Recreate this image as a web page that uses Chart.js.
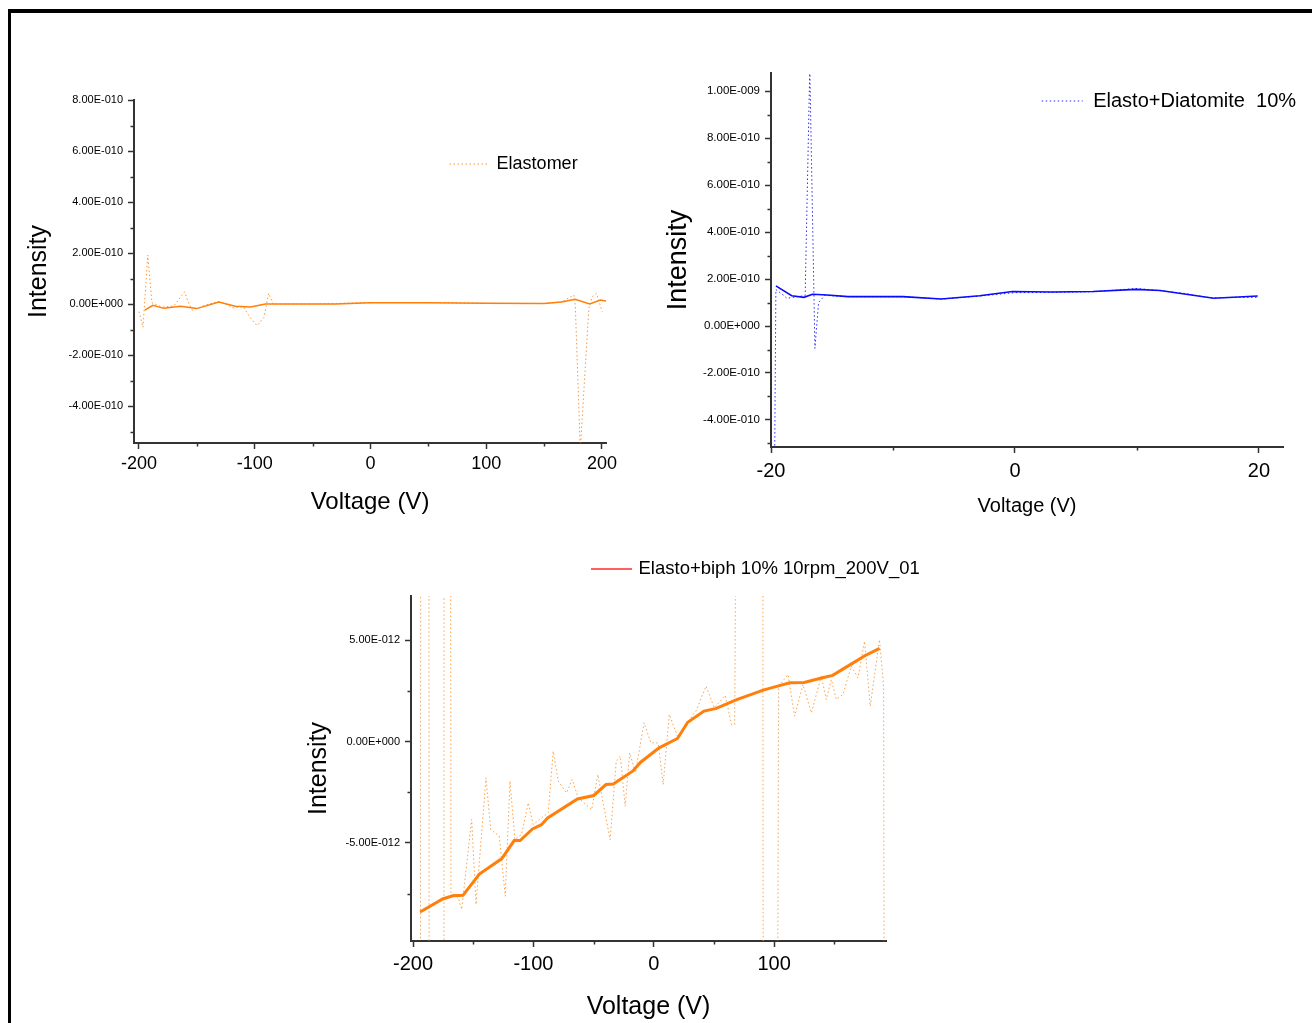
<!DOCTYPE html>
<html>
<head>
<meta charset="utf-8">
<title>Intensity vs Voltage</title>
<script src="https://cdn.jsdelivr.net/npm/chart.js@4.4.1/dist/chart.umd.min.js"></script>
<style>
  body { margin: 0; background: #fff; width: 1312px; height: 1023px; overflow: hidden; position: relative; }
  .frame { position: absolute; left: 8px; top: 9px; right: -10px; bottom: -10px; border-top: 4px solid #000; border-left: 3px solid #000; }
  .box { position: absolute; }
</style>
</head>
<body>
<div class="frame"></div>
<div class="box" style="left:18px;top:60px;width:622px;height:470px"><canvas id="chart1"></canvas></div>
<div class="box" style="left:655px;top:50px;width:650px;height:480px"><canvas id="chart2"></canvas></div>
<div class="box" style="left:295px;top:550px;width:645px;height:473px"><canvas id="chart3"></canvas></div>
<script>
// upper panels: intensity in units of 1e-10, lower panel: units of 1e-12

// Elastomer (top left)
const elastoRawV = [-200, -196.5, -192.4, -188.8, -180, -170, -160.5, -158, -154, -146, -138, -131, -127, -119, -110, -103.7, -98, -92, -88, -84, -70, -50, -30, -10, 10, 30, 60, 90, 120, 150, 165, 175.8, 177, 181.3, 188.7, 191.6, 195.3, 200.2];
const elastoRawI = [-0.3, -0.91, 1.92, 0.05, -0.12, -0.08, 0.48, 0.13, -0.24, -0.1, 0.02, 0.1, 0.05, -0.15, -0.1, -0.55, -0.85, -0.52, 0.42, 0.0, 0.0, 0.0, 0.02, 0.05, 0.06, 0.06, 0.05, 0.03, 0.02, 0.02, 0.08, 0.35, -0.1, -5.7, -0.17, 0.29, 0.42, -0.3];
const elastoFitV = [-195, -188, -178.7, -164, -150, -131, -116.7, -103.7, -90.7, -60, -30, 0, 50, 100, 150, 165, 176.8, 189.5, 198.6, 203.5];
const elastoFitI = [-0.24, -0.05, -0.17, -0.09, -0.18, 0.08, -0.09, -0.12, 0, 0, 0, 0.05, 0.05, 0.03, 0.02, 0.08, 0.19, 0.0, 0.16, 0.12];
const elastoTicksX = [-200, -100, 0, 100, 200];
const elastoMinorX = [-150, -50, 50, 150];
const elastoTicksY = [-4, -2, 0, 2, 4, 6, 8];
const elastoLabelsY = ['-4.00E-010', '-2.00E-010', '0.00E+000', '2.00E-010', '4.00E-010', '6.00E-010', '8.00E-010'];
const elastoMinorY = [-5, -3, -1, 1, 3, 5, 7];

// Elasto+Diatomite 10% (top right)
const diatoRawV = [-19.7, -19.6, -19.0, -18.7, -17.8, -17.2, -16.82, -16.4, -16.1, -15.6, -13.5, -9, -6, -3, 0, 3, 6.5, 8, 10, 12, 14, 16, 18, 19.9];
const diatoRawI = [-5.6, 1.55, 1.32, 1.18, 1.25, 1.3, 11.0, -0.95, 1.0, 1.3, 1.25, 1.24, 1.15, 1.27, 1.42, 1.43, 1.46, 1.52, 1.6, 1.5, 1.38, 1.2, 1.22, 1.22];
const diatoFitV = [-19.6, -18.3, -17.3, -16.6, -15.4, -13.7, -9.2, -6.05, -2.9, -0.2, 3, 6.4, 9.9, 11.9, 16.3, 19.9];
const diatoFitI = [1.71, 1.29, 1.22, 1.35, 1.32, 1.25, 1.25, 1.15, 1.29, 1.47, 1.45, 1.47, 1.56, 1.51, 1.18, 1.28];
const diatoTicksX = [-20, 0, 20];
const diatoMinorX = [-10, 10];
const diatoTicksY = [-4, -2, 0, 2, 4, 6, 8, 10];
const diatoLabelsY = ['-4.00E-010', '-2.00E-010', '0.00E+000', '2.00E-010', '4.00E-010', '6.00E-010', '8.00E-010', '1.00E-009'];
const diatoMinorY = [-5, -3, -1, 1, 3, 5, 7, 9];

// Elasto+biph 10% 10rpm_200V_01 (bottom)
const biphRawV = [-194, -193.5, -187, -186.5, -174.5, -174, -169, -168.5, -162.4, -159.6, -151.3, -147.7, -139.4, -135.5, -128.4, -123.4, -119.5, -115.4, -109.8, -104.3, -100.2, -87.7, -83.6, -79.4, -72.5, -67.8, -62.8, -51.6, -46.5, -36.3, -31.2, -27.8, -23.8, -20, -15.3, -8.1, -2.4, 3.7, 7.8, 12.9, 19.7, 28.2, 35, 43.4, 50.2, 59.4, 64.5, 67.2, 69.8, 90.5, 91, 102, 103.7, 111.5, 117, 123.9, 130.9, 139.2, 143.3, 147.5, 151.6, 157.1, 164.1, 169.6, 175.1, 179.8, 187.5, 190.9, 191.8];
const biphRawI = [-30, 30, 30, -30, -30, 30, 30, -7.45, -7.7, -8.28, -3.84, -8.03, -1.79, -4.34, -4.66, -7.62, -1.95, -4.83, -4.58, -3.02, -4.09, -3.51, -0.48, -1.95, -2.53, -1.87, -2.77, -3.36, -1.63, -4.84, -0.97, -0.72, -3.19, -0.56, -1.55, 0.92, -0.07, -0.07, -2.12, 1.33, 0.26, 0.95, 1.5, 2.73, 1.66, 2.27, 0.84, 0.84, 30, 30, -30, -30, 2.72, 3.3, 1.25, 2.81, 1.41, 3.22, 2.07, 3.05, 2.07, 2.32, 3.71, 3.14, 4.94, 1.74, 5.02, 2.72, -30];
const biphFitV = [-194.1, -175.4, -167, -158.5, -144.9, -126.2, -116, -111, -100.8, -93.3, -88.2, -63.4, -49.9, -39.7, -33.6, -17.6, -10.9, 4.4, 19.7, 28.2, 41.7, 51.9, 68.9, 90.9, 102.8, 113, 124.9, 140.1, 148.6, 162.2, 175.7, 187.6];
const biphFitI = [-8.40, -7.76, -7.60, -7.58, -6.53, -5.77, -4.88, -4.88, -4.31, -4.10, -3.77, -2.83, -2.66, -2.12, -2.09, -1.46, -1.02, -0.31, 0.15, 0.95, 1.50, 1.63, 2.06, 2.53, 2.73, 2.89, 2.91, 3.14, 3.26, 3.75, 4.24, 4.59];
const biphTicksX = [-200, -100, 0, 100];
const biphMinorX = [-150, -50, 50, 150];
const biphTicksY = [-5, 0, 5];
const biphLabelsY = ['-5.00E-012', '0.00E+000', '5.00E-012'];
const biphMinorY = [-7.5, -2.5, 2.5];

Chart.defaults.font.family = '"Liberation Sans", Arial, sans-serif';
Chart.defaults.color = '#000';
const axisColor = '#333';
const dots = [1.5, 2.5];

const pts = (xs, ys) => xs.map((x, i) => ({x: x, y: ys[i]}));

// fixed axis box so the plot areas land where they are in the figure
function fixSize(size) {
  return function (scale) {
    if (scale.isHorizontal()) scale.height = size; else scale.width = size;
    scale.paddingLeft = 0; scale.paddingRight = 0;
    scale.paddingTop = 0; scale.paddingBottom = 0;
  };
}

// short ticks between the labelled ones
const minorTicks = {
  id: 'minorTicks',
  afterDraw(chart, args, o) {
    const {ctx, chartArea: a, scales} = chart;
    ctx.save();
    ctx.strokeStyle = axisColor;
    ctx.lineWidth = 1.5;
    ctx.beginPath();
    o.x.forEach(v => {
      const px = Math.round(scales.x.getPixelForValue(v)) + 0.5;
      ctx.moveTo(px, a.bottom); ctx.lineTo(px, a.bottom + o.len);
    });
    o.y.forEach(v => {
      const py = Math.round(scales.y.getPixelForValue(v)) + 0.5;
      ctx.moveTo(a.left, py); ctx.lineTo(a.left - o.len, py);
    });
    ctx.stroke();
    ctx.restore();
  }
};

// single-entry legend drawn where the original has it
const innerLegend = {
  id: 'innerLegend',
  afterDraw(chart, args, o) {
    const ctx = chart.ctx;
    ctx.save();
    ctx.strokeStyle = o.color;
    ctx.lineWidth = o.width;
    ctx.setLineDash(o.dash);
    ctx.beginPath();
    ctx.moveTo(o.x, o.y); ctx.lineTo(o.x + o.len, o.y);
    ctx.stroke();
    ctx.setLineDash([]);
    ctx.fillStyle = '#000';
    ctx.font = o.size + 'px ' + Chart.defaults.font.family;
    ctx.textBaseline = 'middle';
    ctx.textAlign = 'left';
    ctx.fillText(o.text, o.textX, o.y);
    ctx.restore();
  }
};

function makeChart(id, c) {
  return new Chart(document.getElementById(id), {
    type: 'line',
    data: {
      datasets: [
        { data: pts(c.fitV, c.fitI), borderColor: c.fitColor, borderWidth: c.fitWidth, pointRadius: 0, tension: 0 },
        { data: pts(c.rawV, c.rawI), borderColor: c.rawColor, borderWidth: 1, borderDash: dots, pointRadius: 0, tension: 0 }
      ]
    },
    options: {
      responsive: true,
      maintainAspectRatio: false,
      animation: false,
      layout: { padding: { top: c.padTop, right: c.padRight, left: 0, bottom: 0 } },
      plugins: {
        legend: { display: false },
        tooltip: { enabled: false },
        minorTicks: { x: c.minorX, y: c.minorY, len: 3.5 },
        innerLegend: c.legend
      },
      scales: {
        x: {
          type: 'linear',
          min: c.xMin, max: c.xMax,
          afterFit: fixSize(c.xAxisH),
          afterBuildTicks: s => { s.ticks = c.ticksX.map(v => ({value: v})); },
          ticks: { callback: v => String(v), font: { size: c.xTickSize }, padding: c.xTickPad, autoSkip: false, maxRotation: 0 },
          grid: { drawOnChartArea: false, tickLength: 6, tickColor: axisColor, tickWidth: 1.5 },
          border: { color: axisColor, width: 2 },
          title: { display: true, text: 'Voltage (V)', font: { size: c.xTitleSize }, padding: { top: 0, bottom: c.xTitlePad } }
        },
        y: {
          type: 'linear',
          min: c.yMin, max: c.yMax,
          afterFit: fixSize(116),
          afterBuildTicks: s => { s.ticks = c.ticksY.map(v => ({value: v})); },
          ticks: { callback: (v, i) => c.labelsY[i], font: { size: c.yTickSize }, padding: 5, autoSkip: false },
          grid: { drawOnChartArea: false, tickLength: 6, tickColor: axisColor, tickWidth: 1.5 },
          border: { color: axisColor, width: 2 },
          title: { display: true, text: 'Intensity', font: { size: c.yTitleSize }, padding: { top: c.yTitlePad, bottom: 0 } }
        }
      }
    },
    plugins: [minorTicks, innerLegend]
  });
}

makeChart('chart1', {
  rawV: elastoRawV, rawI: elastoRawI, fitV: elastoFitV, fitI: elastoFitI,
  rawColor: 'rgba(255,140,30,0.9)', fitColor: '#ff7f0a', fitWidth: 1.5,
  xMin: -204.3, xMax: 203.5, yMin: -5.45, yMax: 8,
  ticksX: elastoTicksX, ticksY: elastoTicksY, labelsY: elastoLabelsY,
  minorX: elastoMinorX, minorY: elastoMinorY,
  padTop: 40, padRight: 34, xAxisH: 87,
  xTickSize: 18, xTickPad: 4, yTickSize: 11,
  xTitleSize: 24, xTitlePad: 13.5, yTitleSize: 25, yTitlePad: 6,
  legend: { x: 431.5, y: 104, len: 38, color: 'rgba(255,140,30,0.9)', width: 1, dash: dots, text: 'Elastomer', textX: 478.6, size: 18 }
});

makeChart('chart2', {
  rawV: diatoRawV, rawI: diatoRawI, fitV: diatoFitV, fitI: diatoFitI,
  rawColor: '#2a2aff', fitColor: '#0a0aff', fitWidth: 1.6,
  xMin: -20, xMax: 21.97, yMin: -5.15, yMax: 10.77,
  ticksX: diatoTicksX, ticksY: diatoTicksY, labelsY: diatoLabelsY,
  minorX: diatoMinorX, minorY: diatoMinorY,
  padTop: 23, padRight: 22, xAxisH: 83,
  xTickSize: 20, xTickPad: 6, yTickSize: 11.5,
  xTitleSize: 20, xTitlePad: 11.5, yTitleSize: 27, yTitlePad: 7.5,
  legend: { x: 386.7, y: 51, len: 41, color: '#2a2aff', width: 1, dash: dots, text: 'Elasto+Diatomite  10%', textX: 438.2, size: 20 }
});

makeChart('chart3', {
  rawV: biphRawV, rawI: biphRawI, fitV: biphFitV, fitI: biphFitI,
  rawColor: 'rgba(255,150,50,0.9)', fitColor: '#ff7f0a', fitWidth: 3,
  xMin: -201.7, xMax: 192.9, yMin: -9.83, yMax: 7.17,
  ticksX: biphTicksX, ticksY: biphTicksY, labelsY: biphLabelsY,
  minorX: biphMinorX, minorY: biphMinorY,
  padTop: 46, padRight: 54, xAxisH: 82,
  xTickSize: 20, xTickPad: 5.7, yTickSize: 11,
  xTitleSize: 25, xTitlePad: 1, yTitleSize: 25, yTitlePad: 9.5,
  legend: { x: 296, y: 19, len: 41, color: '#ff2a2a', width: 1.5, dash: [], text: 'Elasto+biph 10% 10rpm_200V_01', textX: 343.5, size: 18.5 }
});
</script>
</body>
</html>
